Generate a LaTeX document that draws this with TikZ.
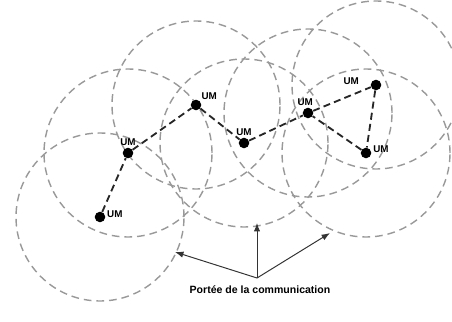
\documentclass[tikz,border=0pt]{standalone}
\usepackage{fontspec}
\setsansfont{Liberation Sans}
\usepackage{tikz}
\usetikzlibrary{positioning, arrows.meta}

\tikzset{
    reach/.style={gray!80, line width=1pt, dash pattern=on 5.5pt off 3.5pt},
    link/.style={black!85, line width=1.3pt, dash pattern=on 5pt off 3pt},
    um/.style={circle, fill=black, inner sep=0pt, minimum size=7.5pt,
        label distance=0pt},
    umtext/.style={font=\sffamily\bfseries\fontsize{7}{8}\selectfont, inner sep=1pt},
    pointer/.style={black!80, line width=0.7pt, -{Latex[length=6pt, width=4.5pt]}}
}

\begin{document}
\begin{tikzpicture}
    \useasboundingbox (0,0) rectangle (11.3,8.025);

    % Positions
    \coordinate (p1) at (2.5,2.6);
    \coordinate (p2) at (3.2,4.2);
    \coordinate (p3) at (4.9,5.4);
    \coordinate (p4) at (6.1,4.45);
    \coordinate (p5) at (7.7,5.2);
    \coordinate (p6) at (9.4,5.9);
    \coordinate (p7) at (9.15,4.2);

    % Communication ranges
    \foreach \i in {1,...,7}
        \draw[reach] (p\i) circle (2.1);

    % Mobile units
    \node[um, label={[umtext, yshift=2pt]right:UM}] (um1) at (p1) {};
    \node[um, label={[umtext]above:UM}] (um2) at (p2) {};
    \node[um, label={[umtext]above right:UM}] (um3) at (p3) {};
    \node[um, label={[umtext]above:UM}] (um4) at (p4) {};
    \node[um, label={[umtext, xshift=-2pt]above:UM}] (um5) at (p5) {};
    \node[um, label={[umtext, xshift=-7pt, yshift=3pt]left:UM}] (um6) at (p6) {};
    \node[um, label={[umtext, yshift=3pt]right:UM}] (um7) at (p7) {};

    % Links
    \draw[link] (um1) -- (um2) -- (um3) -- (um4) -- (um5) -- (um6) -- (um7) -- (um5);

    % Label and arrows
    \node[umtext, font=\sffamily\bfseries\fontsize{7.5}{9}\selectfont] (portee) at (6.5,0.775) {Portée de la communication};
    \coordinate (apex) at (6.425,1.075);
    \coordinate (t1) at (4.375,1.725);
    \coordinate (t2) at (6.425,2.45);
    \coordinate (t3) at (8.25,2.2);
    \draw[pointer] (apex) -- (t1);
    \draw[pointer] (apex) -- (t2);
    \draw[pointer] (apex) -- (t3);
\end{tikzpicture}
\end{document}
